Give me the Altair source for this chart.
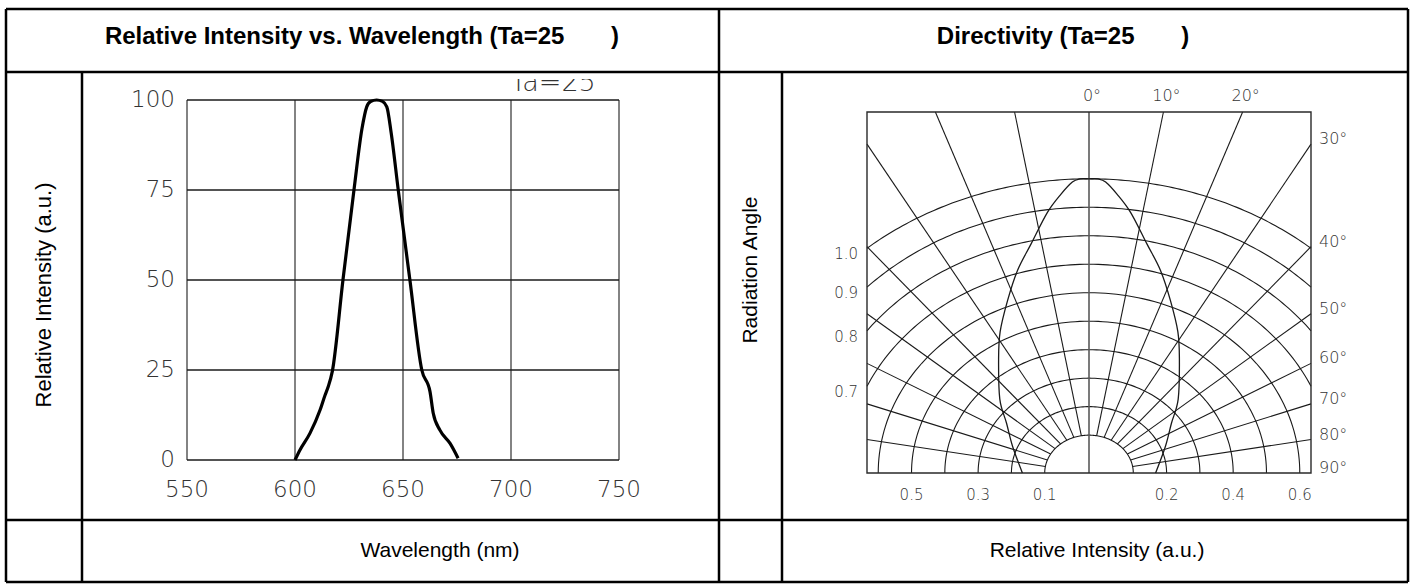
import math
import altair as alt
import pandas as pd

W, H = 1416, 584
THIN = "DejaVu Sans"
SANS = "Liberation Sans"
NBSP = "\u00a0"

# ---------------- spectrum data ----------------
wavelength_nm = [600, 602.3, 606.9, 611.6, 613.9, 615.4, 617.3, 622.2, 627.3, 631,
                 633.2, 635, 637.8, 640.5, 642.5, 644.5, 647.8, 653.2, 658.7, 662.5,
                 664, 667.1, 671.8, 675.5]
rel_intensity = [0, 2.8, 7.4, 13.9, 18, 20.4, 24.7, 50, 75, 92,
                 98.1, 99.6, 100, 99.6, 98.1, 91, 75, 50, 25, 19,
                 13, 8.3, 4.6, 0.5]
wl_ticks = [550, 600, 650, 700, 750]
ri_ticks = [0, 25, 50, 75, 100]

# ---------------- directivity data ----------------
lobe_angle_deg = [0, 1.5, 2.8, 4.9, 7.8, 12.2, 16.8, 22.0, 28.3, 34.2, 45.9, 54.8, 67.8, 90]
lobe_intensity = [1.0, 1.0, 0.99, 0.95, 0.89, 0.79, 0.71, 0.62, 0.53, 0.45, 0.34, 0.27, 0.215, 0.167]
ring_values = [0.1, 0.2, 0.3, 0.4, 0.5, 0.6, 0.7, 0.8, 0.9, 1.0]
spoke_angles = list(range(-80, 81, 10))
angle_labels = [0, 10, 20, 30, 40, 50, 60, 70, 80, 90]
left_ring_labels = [1.0, 0.9, 0.8, 0.7]
bottom_left_labels = [0.5, 0.3, 0.1]
bottom_right_labels = [0.2, 0.4, 0.6]

# polar frame: radial offset of the rings and the half-extent of the box
HOLE = 0.033
X_HALF = 0.6667
Y_TOP = 1.2676

# ---------------- scales ----------------
sx = alt.Scale(domain=[550, 750], range=[187, 619], nice=False, zero=False)
sy = alt.Scale(domain=[0, 100], range=[460, 100], nice=False, zero=False)
px = alt.Scale(domain=[-X_HALF, X_HALF], range=[867, 1311], nice=False, zero=False)
py = alt.Scale(domain=[0, Y_TOP], range=[473, 112], nice=False, zero=False)


def X(field, scale):
    return alt.X(field, scale=scale, axis=None)


def Y(field, scale):
    return alt.Y(field, scale=scale, axis=None)


layers = []

# ---------------- spectrum panel ----------------
vgrid = pd.DataFrame({"wl": wl_ticks, "lo": 0, "hi": 100})
hgrid = pd.DataFrame({"ri": ri_ticks, "lo": 550, "hi": 750})
layers.append(alt.Chart(vgrid).mark_rule(color="#5a5a5a", strokeWidth=1.5).encode(
    x=X("wl:Q", sx), y=Y("lo:Q", sy), y2="hi:Q"))
layers.append(alt.Chart(hgrid).mark_rule(color="#1a1a1a", strokeWidth=1.3).encode(
    y=Y("ri:Q", sy), x=X("lo:Q", sx), x2="hi:Q"))

spec = pd.DataFrame({"wl": wavelength_nm, "ri": rel_intensity})
layers.append(alt.Chart(spec).mark_line(color="black", strokeWidth=3.2,
                                        interpolate="monotone").encode(
    x=X("wl:Q", sx), y=Y("ri:Q", sy), order="wl:Q"))

xlab = pd.DataFrame({"wl": wl_ticks, "ri": 0, "t": [str(v) for v in wl_ticks]})
layers.append(alt.Chart(xlab).mark_text(font=THIN, fontWeight=200, fontSize=23, color="#333",
                                        dy=30, baseline="middle").encode(
    x=X("wl:Q", sx), y=Y("ri:Q", sy), text="t:N"))
ylab = pd.DataFrame({"wl": 550, "ri": ri_ticks, "t": [str(v) for v in ri_ticks]})
layers.append(alt.Chart(ylab).mark_text(font=THIN, fontWeight=200, fontSize=23, color="#333",
                                        dx=-12, align="right", baseline="middle").encode(
    x=X("wl:Q", sx), y=Y("ri:Q", sy), text="t:N"))

one = pd.DataFrame({"k": [0]})
# temperature note above the plot box, partly hidden under the watermark band
layers.append(alt.Chart(one).mark_text(font=THIN, fontWeight=200, fontSize=27, color="#333",
                                       align="center", baseline="alphabetic").encode(
    x=alt.value(553), y=alt.value(91), text=alt.value("Ta=25")))
layers.append(alt.Chart(one).mark_rect(color="white").encode(
    x=alt.value(490), x2=alt.value(620), y=alt.value(70), y2=alt.value(79)))

# ---------------- directivity panel ----------------
ring_rows = []
for v in ring_values:
    r = v + HOLE
    tmax = math.asin(min(1.0, X_HALF / r))
    n = 120
    for i in range(n + 1):
        t = -tmax + 2 * tmax * i / n
        ring_rows.append({"ring": v, "i": i, "x": r * math.sin(t), "y": r * math.cos(t)})
rings = pd.DataFrame(ring_rows)
layers.append(alt.Chart(rings).mark_line(color="#1a1a1a", strokeWidth=1.1).encode(
    x=X("x:Q", px), y=Y("y:Q", py), detail="ring:N", order="i:Q"))

spoke_rows = []
for a in spoke_angles:
    if a == 0:
        continue
    t = math.radians(a)
    r0 = ring_values[0] + HOLE
    reach = X_HALF / abs(math.sin(t))
    if math.cos(t) > 1e-9:
        reach = min(reach, Y_TOP / math.cos(t))
    spoke_rows.append({"a": a, "x": r0 * math.sin(t), "y": r0 * math.cos(t),
                       "x2": reach * math.sin(t), "y2": reach * math.cos(t)})
spokes = pd.DataFrame(spoke_rows)
layers.append(alt.Chart(spokes).mark_rule(color="#1a1a1a", strokeWidth=1.1).encode(
    x=X("x:Q", px), y=Y("y:Q", py), x2="x2:Q", y2="y2:Q"))

axis0 = pd.DataFrame({"x": [0.0], "y": [0.0], "y2": [Y_TOP]})
layers.append(alt.Chart(axis0).mark_rule(color="#5a5a5a", strokeWidth=1.6).encode(
    x=X("x:Q", px), y=Y("y:Q", py), y2="y2:Q"))

box = pd.DataFrame({"x": [-X_HALF], "x2": [X_HALF], "y": [0.0], "y2": [Y_TOP]})
layers.append(alt.Chart(box).mark_rect(fill=None, stroke="#2a2a2a", strokeWidth=1.4).encode(
    x=X("x:Q", px), x2="x2:Q", y=Y("y:Q", py), y2="y2:Q"))

lobe_rows = []
pairs = list(zip(lobe_angle_deg, lobe_intensity))
mirrored = [(-a, v) for a, v in reversed(pairs[1:])] + pairs
for i, (a, v) in enumerate(mirrored):
    t = math.radians(a)
    r = v + HOLE
    lobe_rows.append({"i": i, "x": r * math.sin(t), "y": r * math.cos(t)})
lobe = pd.DataFrame(lobe_rows)
layers.append(alt.Chart(lobe).mark_line(color="#1a1a1a", strokeWidth=1.3,
                                        interpolate="cardinal").encode(
    x=X("x:Q", px), y=Y("y:Q", py), order="i:Q"))

# angle labels where each spoke leaves the box
top_rows, side_rows = [], []
for a in angle_labels:
    t = math.radians(a)
    if a <= 20:
        reach = Y_TOP / math.cos(t)
        top_rows.append({"x": reach * math.sin(t), "y": Y_TOP, "t": f"{a}°"})
    else:
        yy = X_HALF / math.tan(t) if a < 90 else 0.0
        side_rows.append({"x": X_HALF, "y": yy, "t": f"{a}°"})
layers.append(alt.Chart(pd.DataFrame(top_rows)).mark_text(
    font=THIN, fontWeight=200, fontSize=16, color="#333", dx=3, dy=-16, baseline="middle").encode(
    x=X("x:Q", px), y=Y("y:Q", py), text="t:N"))
layers.append(alt.Chart(pd.DataFrame(side_rows)).mark_text(
    font=THIN, fontWeight=200, fontSize=16, color="#333", dx=8, dy=-5, align="left",
    baseline="middle").encode(
    x=X("x:Q", px), y=Y("y:Q", py), text="t:N"))

left_rows = []
for v in left_ring_labels:
    r = v + HOLE
    t = math.asin(X_HALF / r)
    left_rows.append({"x": -X_HALF, "y": r * math.cos(t), "t": f"{v:.1f}"})
layers.append(alt.Chart(pd.DataFrame(left_rows)).mark_text(
    font=THIN, fontWeight=200, fontSize=15, color="#333", dx=-9, dy=6, align="right",
    baseline="middle").encode(
    x=X("x:Q", px), y=Y("y:Q", py), text="t:N"))

bottom_rows = [{"x": -(v + HOLE), "y": 0.0, "t": f"{v:.1f}"} for v in bottom_left_labels]
bottom_rows += [{"x": v + HOLE, "y": 0.0, "t": f"{v:.1f}"} for v in bottom_right_labels]
layers.append(alt.Chart(pd.DataFrame(bottom_rows)).mark_text(
    font=THIN, fontWeight=200, fontSize=15, color="#333", dy=22, baseline="middle").encode(
    x=X("x:Q", px), y=Y("y:Q", py), text="t:N"))

# ---------------- table frame and captions ----------------
frame_h = pd.DataFrame({"x1": [6, 6, 6, 6], "x2": [1408] * 4, "y": [9, 72, 520, 582]})
frame_v = pd.DataFrame({"x": [6, 1408, 719, 82, 782], "y1": [9, 9, 9, 72, 72],
                        "y2": [582] * 5})
layers.append(alt.Chart(frame_h).mark_rule(color="black", strokeWidth=2.5).encode(
    x=alt.X("x1:Q", scale=None), x2="x2:Q", y=alt.Y("y:Q", scale=None)))
layers.append(alt.Chart(frame_v).mark_rule(color="black", strokeWidth=2.5).encode(
    x=alt.X("x:Q", scale=None), y=alt.Y("y1:Q", scale=None), y2="y2:Q"))


def caption(text, x, y, size, bold=False, angle=0):
    return alt.Chart(one).mark_text(font=SANS, fontSize=size,
                                    fontWeight="bold" if bold else "normal",
                                    color="black", align="center", baseline="middle",
                                    angle=angle).encode(
        x=alt.value(x), y=alt.value(y), text=alt.value(text))


gap = NBSP * 7
layers.append(caption(f"Relative Intensity vs. Wavelength (Ta=25{gap})", 362, 37, 24, bold=True))
layers.append(caption(f"Directivity (Ta=25{gap})", 1063, 37, 24, bold=True))
layers.append(caption("Relative Intensity (a.u.)", 44, 295, 22, angle=270))
layers.append(caption("Radiation Angle", 751, 270, 21, angle=270))
layers.append(caption("Wavelength (nm)", 440, 551, 21))
layers.append(caption("Relative Intensity (a.u.)", 1097, 551, 21))

chart = alt.layer(*layers).resolve_scale(x="independent", y="independent").properties(
    width=W, height=H, padding=0, autosize="none", background="white"
).configure_view(stroke=None)

chart.save("out.html", embed_options={"renderer": "svg", "actions": False})
